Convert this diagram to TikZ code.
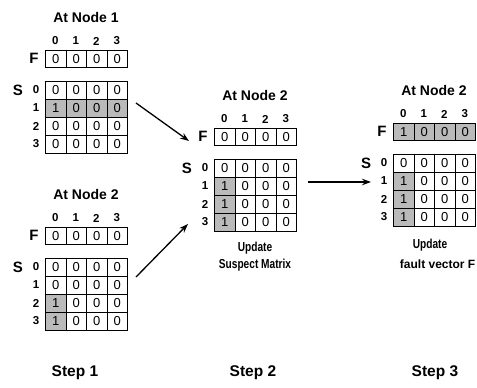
\documentclass[tikz,border=0pt]{standalone}
\usepackage{fontspec}
\setmainfont{Liberation Sans}
\newfontfamily\condfont[FakeStretch=0.78]{Liberation Sans}
\usetikzlibrary{arrows.meta}
\colorlet{sh}{black!27}
\colorlet{wh}{white}
\tikzset{
  cell/.style={draw=black, line width=1pt, minimum width=20.5pt, minimum height=18pt, inner sep=0pt, anchor=north west, font=\fontsize{13}{13}\selectfont},
  fcell/.style={cell, minimum height=17pt},
  title/.style={font=\bfseries\fontsize{14}{14}\selectfont},
  collab/.style={font=\bfseries\fontsize{11.5}{11.5}\selectfont},
  rowlab/.style={font=\bfseries\fontsize{11.5}{11.5}\selectfont},
  letter/.style={font=\bfseries\fontsize{15}{15}\selectfont},
  caption/.style={font=\condfont\bfseries\fontsize{13}{13}\selectfont},
  widecaption/.style={font=\bfseries\fontsize{12}{12}\selectfont},
  steplab/.style={font=\bfseries\fontsize{15.5}{15.5}\selectfont},
  arr/.style={line width=1.3pt, -{Stealth[length=9pt,width=6.5pt]}},
}
\newcommand\matframe[4]{%
  \node[title] (#1-title) at (#2+41,#3-33) {#4};
  \foreach \c in {0,1,2,3} { \node[collab] (#1-c\c) at ({#2+10.25+20.5*\c},#3-9) {\c}; }
  \node[letter] (#1-F) at (#2-11,#3+8.5) {F};
  \node[letter] (#1-S) at (#2-27,#3+40) {S};
  \foreach \r in {0,1,2,3} { \node[rowlab] (#1-r\r) at (#2-9,{#3+40+18*\r}) {\r}; }
}
\newcommand\fcells[4]{%
  \foreach \c/\v/\f in {#4} { \node[fcell, fill=\f] (#1-f\c) at ({#2+20.5*\c},#3) {\v}; }
}
\newcommand\scells[4]{%
  \foreach \r/\c/\v/\f in {#4} { \node[cell, fill=\f] (#1-s\r\c) at ({#2+20.5*\c},{#3+31+18*\r}) {\v}; }
}
\begin{document}
\begin{tikzpicture}[x=1pt,y=-1pt]
\useasboundingbox (0,0) rectangle (477,388);
% Matrix A
\matframe{A}{45}{50}{At Node 1}
\fcells{A}{45}{50}{0/0/wh,1/0/wh,2/0/wh,3/0/wh}
\scells{A}{45}{50}{0/0/0/wh,0/1/0/wh,0/2/0/wh,0/3/0/wh,1/0/1/sh,1/1/0/sh,1/2/0/sh,1/3/0/sh,2/0/0/wh,2/1/0/wh,2/2/0/wh,2/3/0/wh,3/0/0/wh,3/1/0/wh,3/2/0/wh,3/3/0/wh}
% Matrix B
\matframe{B}{45}{227}{At Node 2}
\fcells{B}{45}{227}{0/0/wh,1/0/wh,2/0/wh,3/0/wh}
\scells{B}{45}{227}{0/0/0/wh,0/1/0/wh,0/2/0/wh,0/3/0/wh,1/0/0/wh,1/1/0/wh,1/2/0/wh,1/3/0/wh,2/0/1/sh,2/1/0/wh,2/2/0/wh,2/3/0/wh,3/0/1/sh,3/1/0/wh,3/2/0/wh,3/3/0/wh}
% Matrix C
\matframe{C}{214}{128}{At Node 2}
\fcells{C}{214}{128}{0/0/wh,1/0/wh,2/0/wh,3/0/wh}
\scells{C}{214}{128}{0/0/0/wh,0/1/0/wh,0/2/0/wh,0/3/0/wh,1/0/1/sh,1/1/0/wh,1/2/0/wh,1/3/0/wh,2/0/1/sh,2/1/0/wh,2/2/0/wh,2/3/0/wh,3/0/1/sh,3/1/0/wh,3/2/0/wh,3/3/0/wh}
\node[caption] (C-up) at (255,248) {Update};
\node[caption] (C-sm) at (255,265) {Suspect Matrix};
% Matrix D
\matframe{D}{393}{123}{At Node 2}
\fcells{D}{393}{123}{0/1/sh,1/0/sh,2/0/sh,3/0/sh}
\scells{D}{393}{123}{0/0/0/wh,0/1/0/wh,0/2/0/wh,0/3/0/wh,1/0/1/sh,1/1/0/wh,1/2/0/wh,1/3/0/wh,2/0/1/sh,2/1/0/wh,2/2/0/wh,2/3/0/wh,3/0/1/sh,3/1/0/wh,3/2/0/wh,3/3/0/wh}
\node[caption] (D-up) at (430,245) {Update};
\node[widecaption, anchor=east, inner sep=1pt] (D-fv) at (476.5,264) {fault vector F};
% arrows
\coordinate (a1s) at (136,103);
\coordinate (a1e) at (189,141);
\coordinate (a2s) at (136,277);
\coordinate (a2e) at (188,224);
\coordinate (a3s) at (308,182);
\coordinate (a3e) at (371,182);
\draw[arr] (a1s) -- (a1e);
\draw[arr] (a2s) -- (a2e);
\draw[arr] (a3s) -- (a3e);
% steps
\node[steplab] (st1) at (75,373) {Step 1};
\node[steplab] (st2) at (253,373) {Step 2};
\node[steplab] (st3) at (435,373) {Step 3};
\end{tikzpicture}
\end{document}
